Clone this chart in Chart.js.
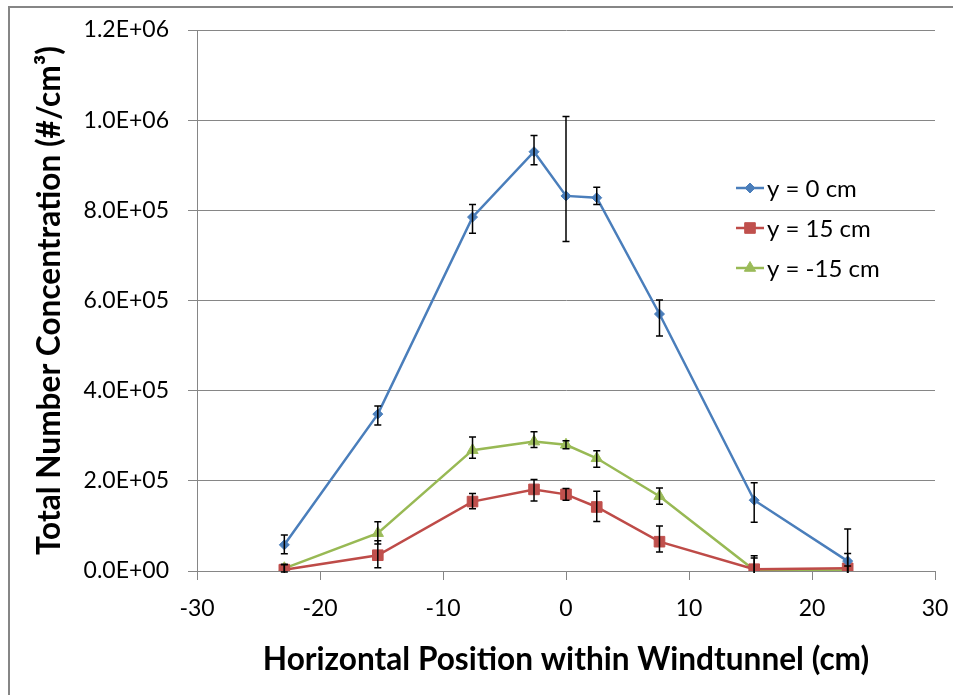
<!DOCTYPE html>
<html>
<head>
<meta charset="utf-8">
<title>Total Number Concentration</title>
<script src="https://cdn.jsdelivr.net/npm/chart.js@4.4.1/dist/chart.umd.min.js"></script>
<style>
  html, body { margin: 0; padding: 0; background: #ffffff; overflow: hidden; }
  #wrap { position: relative; width: 953px; height: 695px; }
</style>
</head>
<body>
<div id="wrap">
  <canvas id="concChart" width="953" height="695"></canvas>
</div>
<script>
// horizontal sampling positions (cm)
const positions = [-22.9, -15.3, -7.6, -2.6, 0, 2.5, 7.6, 15.3, 22.9];

// mean concentration (#/cm3) with upper / lower error for each traverse height
const centreValues = [58000, 348000, 785000, 930000, 832000, 828000, 570000, 157000, 22000];
const centreErrUp = [22000, 18000, 28000, 36000, 176000, 23000, 31000, 39000, 71000];
const centreErrDown = [20000, 24000, 36000, 29000, 101000, 15000, 49000, 49000, 71000];

const upperValues = [3000, 35000, 154000, 181000, 170000, 142000, 65000, 4000, 6000];
const upperErrUp = [12000, 32000, 18000, 22000, 13000, 35000, 35000, 30000, 33000];
const upperErrDown = [12000, 28000, 16000, 26000, 13000, 32000, 23000, 30000, 33000];

const lowerValues = [6000, 84000, 268000, 287000, 280000, 250000, 166000, 2000, 1000];
const lowerErrUp = [8000, 25000, 29000, 22000, 9000, 17000, 18000, 27000, 10000];
const lowerErrDown = [8000, 24000, 18000, 13000, 9000, 20000, 18000, 27000, 10000];

const seriesLabels = ['y = 0 cm', 'y = 15 cm', 'y = -15 cm'];

const xTickMin = -30, xTickMax = 30, xTickStep = 10;
const yTickMin = 0, yTickMax = 1200000, yTickStep = 200000;

const GRID = '#868686';
const FONT = 'Lato, "Open Sans", sans-serif';

function toPoints(values) {
  return positions.map((x, i) => ({ x: x, y: values[i] }));
}

// Excel style scientific label, e.g. 1.2E+06
function sciLabel(v) {
  const parts = Number(v).toExponential(1).split('e');
  const sign = parts[1][0];
  const exp = parts[1].slice(1).padStart(2, '0');
  return parts[0] + 'E' + sign + exp;
}

function makeSeries(label, values, errUp, errDown, line, fill, style, radius) {
  return {
    label: label,
    data: toPoints(values),
    errUp: errUp,
    errDown: errDown,
    showLine: true,
    borderColor: line,
    borderWidth: 2.5,
    backgroundColor: fill,
    pointStyle: style,
    pointRadius: radius,
    pointHoverRadius: radius,
    pointBackgroundColor: fill,
    pointBorderColor: fill,
    pointBorderWidth: 1,
    tension: 0
  };
}

// frame around the whole chart (only top and left edges fall inside the page)
const framePlugin = {
  id: 'frame',
  beforeDraw(chart) {
    const ctx = chart.ctx;
    ctx.save();
    ctx.strokeStyle = GRID;
    ctx.lineWidth = 2;
    ctx.beginPath();
    ctx.moveTo(9, chart.height);
    ctx.lineTo(9, 7);
    ctx.lineTo(chart.width, 7);
    ctx.stroke();
    ctx.restore();
  }
};

// black error bars with small caps
const errorBarPlugin = {
  id: 'errorBars',
  afterDatasetsDraw(chart) {
    const ctx = chart.ctx;
    const xs = chart.scales.x, ys = chart.scales.y;
    const area = chart.chartArea;
    ctx.save();
    ctx.beginPath();
    ctx.rect(area.left, area.top - 2, area.right - area.left, area.bottom - area.top + 4);
    ctx.clip();
    ctx.strokeStyle = '#000000';
    ctx.lineWidth = 1.5;
    chart.data.datasets.forEach(ds => {
      ds.data.forEach((pt, i) => {
        const px = xs.getPixelForValue(pt.x);
        const top = ys.getPixelForValue(pt.y + ds.errUp[i]);
        const bot = ys.getPixelForValue(pt.y - ds.errDown[i]);
        ctx.beginPath();
        ctx.moveTo(px, top);
        ctx.lineTo(px, bot);
        ctx.moveTo(px - 3.5, top);
        ctx.lineTo(px + 3.5, top);
        ctx.moveTo(px - 3.5, bot);
        ctx.lineTo(px + 3.5, bot);
        ctx.stroke();
      });
    });
    ctx.restore();
  }
};

// legend drawn inside the plot area, to the right of the peak
const legendPlugin = {
  id: 'insideLegend',
  afterDraw(chart) {
    const ctx = chart.ctx;
    const x0 = 736, x1 = 764, textX = 767;
    const rows = [188, 228, 268];
    ctx.save();
    ctx.font = '24px ' + FONT;
    ctx.textBaseline = 'middle';
    ctx.textAlign = 'left';
    chart.data.datasets.forEach((ds, i) => {
      const y = rows[i];
      ctx.strokeStyle = ds.borderColor;
      ctx.lineWidth = ds.borderWidth;
      ctx.beginPath();
      ctx.moveTo(x0, y);
      ctx.lineTo(x1, y);
      ctx.stroke();
      ctx.fillStyle = ds.pointBackgroundColor;
      ctx.strokeStyle = ds.pointBorderColor;
      ctx.lineWidth = 1;
      Chart.helpers.drawPoint(ctx, {
        pointStyle: ds.pointStyle,
        radius: ds.pointRadius,
        rotation: 0,
        borderWidth: 1
      }, (x0 + x1) / 2, y);
      ctx.fillStyle = '#000000';
      ctx.fillText(ds.label, textX, y + 1);
    });
    ctx.restore();
  }
};

const ctx = document.getElementById('concChart').getContext('2d');

new Chart(ctx, {
  type: 'scatter',
  data: {
    datasets: [
      makeSeries(seriesLabels[0], centreValues, centreErrUp, centreErrDown, '#4A7EBB', '#4A7EBB', 'rectRot', 5),
      makeSeries(seriesLabels[1], upperValues, upperErrUp, upperErrDown, '#BE4B48', '#C0504D', 'rect', 7.5),
      makeSeries(seriesLabels[2], lowerValues, lowerErrUp, lowerErrDown, '#98B954', '#9BBB59', 'triangle', 6.5)
    ]
  },
  options: {
    responsive: false,
    animation: false,
    devicePixelRatio: 1,
    layout: {
      padding: { left: 9, top: 30, right: 18, bottom: 7 }
    },
    scales: {
      x: {
        type: 'linear',
        min: xTickMin,
        max: xTickMax,
        afterFit(scale) {
          scale.height = 117;
          scale.paddingLeft = 0;
          scale.paddingRight = 0;
        },
        ticks: {
          stepSize: xTickStep,
          color: '#000000',
          padding: 15,
          font: { family: FONT, size: 23 },
          maxRotation: 0
        },
        grid: {
          drawOnChartArea: false,
          drawTicks: true,
          tickLength: 9,
          color: GRID,
          lineWidth: 1
        },
        border: { display: true, color: GRID, width: 1 },
        title: {
          display: true,
          text: 'Horizontal Position within Windtunnel (cm)',
          color: '#000000',
          font: { family: FONT, size: 31.6, weight: 'bold' },
          padding: { top: 0, bottom: 9 }
        }
      },
      y: {
        type: 'linear',
        min: yTickMin,
        max: yTickMax,
        afterFit(scale) {
          scale.width = 188;
          scale.paddingTop = 0;
          scale.paddingBottom = 0;
        },
        ticks: {
          stepSize: yTickStep,
          color: '#000000',
          padding: 19,
          font: { family: FONT, size: 23 },
          callback: (v) => sciLabel(v)
        },
        grid: {
          drawTicks: true,
          tickLength: 9,
          color: GRID,
          lineWidth: 1
        },
        border: { display: true, color: GRID, width: 1 },
        title: {
          display: true,
          text: 'Total Number Concentration (#/cm³)',
          color: '#000000',
          font: { family: FONT, size: 31.6, weight: 'bold' },
          padding: { top: 22, bottom: 0 }
        }
      }
    },
    plugins: {
      legend: { display: false },
      tooltip: { enabled: false }
    }
  },
  plugins: [framePlugin, errorBarPlugin, legendPlugin]
});
</script>
</body>
</html>
